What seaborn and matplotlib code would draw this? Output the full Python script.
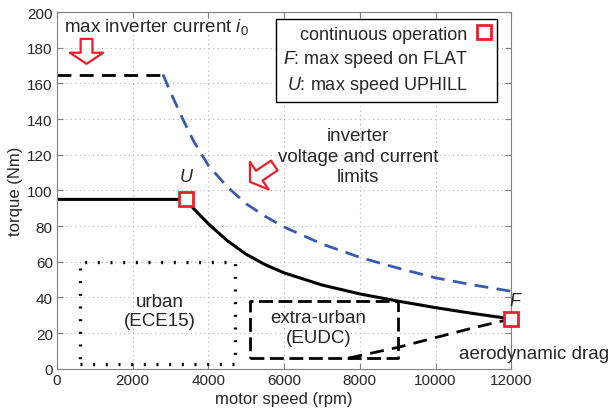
import numpy as np
import pandas as pd
import seaborn as sns
import matplotlib.pyplot as plt
from matplotlib.patches import FancyArrowPatch
from matplotlib.lines import Line2D

# max inverter current (flat)
cur_speed = [0, 2800]
cur_torque = [165, 165]

# inverter voltage and current limits
lim_speed = [2800, 3000, 3300, 3600, 4000, 4500, 5000, 5500, 6000, 7000, 8000, 9000, 10000, 11000, 12000]
lim_torque = [165, 155, 141, 128, 114, 102, 92.5, 85.5, 79.5, 70, 62.5, 56.5, 51, 47, 43.5]

# continuous operation
cont_speed = [0, 3400, 3600, 4000, 4500, 5000, 5500, 6000, 7000, 8000, 9000, 10000, 11000, 12000]
cont_torque = [95, 95, 90, 81.3, 71.8, 64.2, 58.4, 53.8, 47, 42, 38, 34.3, 31, 28]

# aerodynamic drag
drag_speed = [7700, 9000, 10000, 11000, 12000]
drag_torque = [6, 12, 17.5, 23, 28]

# driving-cycle regions
urban_x = [620, 4700, 4700, 620, 620]
urban_y = [2.5, 2.5, 60, 60, 2.5]
eudc_x = [5100, 9000, 9000, 5100, 5100]
eudc_y = [6, 6, 38, 38, 6]

# operating points
pt_speed = [3400, 12000]
pt_torque = [95, 28]
pt_label = ['U', 'F']

sns.set_style("whitegrid")
plt.rcParams['font.family'] = ['Liberation Sans', 'DejaVu Sans']
plt.rcParams['mathtext.fontset'] = 'custom'
plt.rcParams['mathtext.rm'] = 'Liberation Sans'
plt.rcParams['mathtext.it'] = 'Liberation Sans:italic'

fig = plt.figure(figsize=(6.13, 4.10), dpi=100)
ax = fig.add_axes([0.093, 0.098, 0.741, 0.870])

sns.lineplot(x=cur_speed, y=cur_torque, ax=ax, color='black', lw=2)
ax.lines[-1].set_dashes([5, 3])
sns.lineplot(x=lim_speed, y=lim_torque, ax=ax, color='#3a5ab0', lw=2)
ax.lines[-1].set_dashes([5, 3])
sns.lineplot(x=cont_speed, y=cont_torque, ax=ax, color='black', lw=2.2)
sns.lineplot(x=drag_speed, y=drag_torque, ax=ax, color='black', lw=2, sort=False)
ax.lines[-1].set_dashes([5, 3])
ax.plot(urban_x, urban_y, color='black', lw=2.4, dashes=[0.6, 3.2], dash_capstyle='butt')
ax.plot(eudc_x, eudc_y, color='black', lw=2, dashes=[5, 2])

ax.plot(pt_speed, pt_torque, ls='none', marker='s', ms=10, mfc='white',
        mec='#e8202a', mew=2, clip_on=False, zorder=10)
ax.text(pt_speed[0], 103, pt_label[0], style='italic', fontsize=13, ha='center', va='bottom')
ax.text(pt_speed[1] + 100, 33.5, pt_label[1], style='italic', fontsize=13, ha='center', va='bottom')

ax.set_xlim(0, 12000)
ax.set_ylim(0, 200)
ax.set_xticks(range(0, 12001, 2000))
ax.set_yticks(range(0, 201, 20))
ax.grid(True, color='#b0b0b0', ls=(0, (1, 3)), lw=0.8)
for s in ax.spines.values():
    s.set_color('#808080')
    s.set_linewidth(0.8)
ax.tick_params(direction='in', length=4, color='#808080', labelsize=11,
               top=True, right=True, bottom=True, left=True, pad=3)
ax.set_xlabel('motor speed (rpm)', fontsize=12, labelpad=3)
ax.set_ylabel('torque (Nm)', fontsize=12, labelpad=3)

fs = 13.5
ax.text(180, 192, 'max inverter current $\\mathit{i_0}$', fontsize=fs, ha='left', va='center')
ax.text(7950, 119.3, 'inverter\nvoltage and current\nlimits', fontsize=fs,
        ha='center', va='center', linespacing=1.25)
ax.text(2720, 32.5, 'urban\n(ECE15)', fontsize=fs, ha='center', va='center', linespacing=1.2)
ax.text(6900, 23, 'extra-urban\n(EUDC)', fontsize=fs, ha='center', va='center', linespacing=1.2)
ax.text(10620, 8.5, 'aerodynamic drag', fontsize=fs, ha='left', va='center', clip_on=False)

arrow_kw = dict(arrowstyle='simple,head_width=2.4,head_length=0.8,tail_width=0.85',
                mutation_scale=10, fc='white', ec='#e8202a', lw=1.6, zorder=9,
                shrinkA=0, shrinkB=0)
ax.add_patch(FancyArrowPatch((780, 185), (780, 171), **arrow_kw))
ax.add_patch(FancyArrowPatch((5740, 114), (5100, 104.8), **arrow_kw))

handles = [Line2D([], [], ls='none', marker='s', ms=10, mfc='white', mec='#e8202a', mew=2),
           Line2D([], [], ls='none'), Line2D([], [], ls='none')]
labels = ['continuous operation', '$F$: max speed on FLAT', '$U$: max speed UPHILL']
leg = ax.legend(handles, labels, loc='upper right', bbox_to_anchor=(0.969, 0.980),
                markerfirst=False, fontsize=13, frameon=True, fancybox=False,
                handlelength=0.8, handletextpad=0.5, borderpad=0.35, labelspacing=0.3,
                borderaxespad=0)
leg.get_frame().set_edgecolor('black')
leg.get_frame().set_linewidth(1)
leg.get_frame().set_alpha(1)

fig.savefig('out.png', dpi=100)
